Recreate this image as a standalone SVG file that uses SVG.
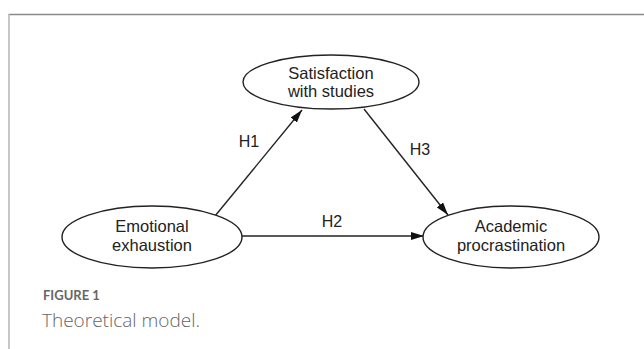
<svg xmlns="http://www.w3.org/2000/svg" width="644" height="349" viewBox="0 0 644 349">
<style>
.node ellipse{fill:#fff;stroke:#222;stroke-width:1.4}
.node text{font-family:"Liberation Sans",Arial,sans-serif;font-size:16.5px;fill:#222;text-anchor:middle}
.conn line{stroke:#222;stroke-width:1.4}
.lbl{font-family:"Liberation Sans",Arial,sans-serif;font-size:16px;fill:#222;text-anchor:middle}
.cap1{font-family:Lato,"Open Sans",sans-serif;font-size:13px;font-weight:bold;fill:#666}
.cap2{font-family:"Open Sans",Lato,sans-serif;font-size:19px;font-weight:300;fill:#666}
</style>
<defs>
<marker id="ah" viewBox="0 0 13 8" refX="13" refY="4" markerWidth="13" markerHeight="8" markerUnits="userSpaceOnUse" orient="auto">
<path d="M0,0 L13,4 L0,8 Z" fill="#111"/>
</marker>
</defs>
<rect width="644" height="349" fill="#fff"/>
<line x1="8.5" y1="14.5" x2="644" y2="14.5" stroke="#8a8a8a" stroke-width="1.5"/>
<line x1="9" y1="14" x2="9" y2="349" stroke="#b5b5b5" stroke-width="1.5"/>
<g class="conn">
<line x1="215" y1="216" x2="302" y2="110" marker-end="url(#ah)"/>
<line x1="364" y1="109" x2="448" y2="215" marker-end="url(#ah)"/>
<line x1="242" y1="236" x2="424" y2="236" marker-end="url(#ah)"/>
<text class="lbl" x="249" y="147">H1</text>
<text class="lbl" x="420" y="155">H3</text>
<text class="lbl" x="332" y="227">H2</text>
</g>
<g id="satisfaction" class="node">
<ellipse cx="331" cy="82" rx="88" ry="27"/>
<text x="331" y="79">Satisfaction</text>
<text x="331" y="97">with studies</text>
</g>
<g id="exhaustion" class="node">
<ellipse cx="152" cy="237" rx="90" ry="31"/>
<text x="152" y="232">Emotional</text>
<text x="152" y="251">exhaustion</text>
</g>
<g id="procrastination" class="node">
<ellipse cx="511" cy="237" rx="88" ry="31"/>
<text x="511" y="232">Academic</text>
<text x="511" y="251">procrastination</text>
</g>
<text class="cap1" x="43" y="300">FIGURE 1</text>
<text class="cap2" x="42" y="327">Theoretical model.</text>
</svg>
